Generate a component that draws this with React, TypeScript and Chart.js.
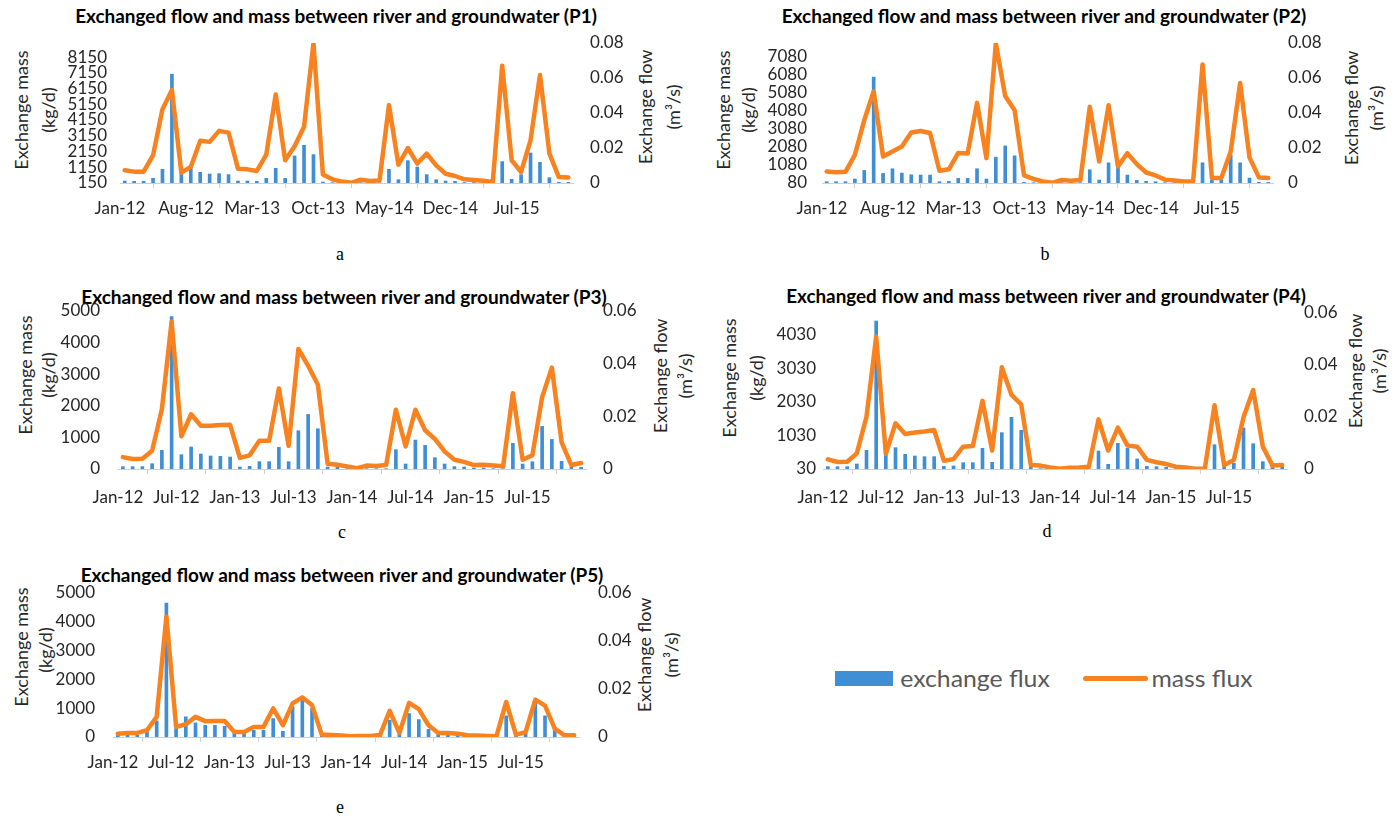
import React, { useEffect, useLayoutEffect, useRef, useState } from 'react';
import { Chart, registerables } from 'chart.js';

Chart.register(...registerables);

// ---------- data ----------
const MONTH_NAMES = ['Jan', 'Feb', 'Mar', 'Apr', 'May', 'Jun', 'Jul', 'Aug', 'Sep', 'Oct', 'Nov', 'Dec'];
const YEARS = ['12', '13', '14', '15'];
const MONTHS: string[] = YEARS.flatMap((y) => MONTH_NAMES.map((m) => `${m}-${y}`));

const TICKS_P12 = ['Jan-12', 'Aug-12', 'Mar-13', 'Oct-13', 'May-14', 'Dec-14', 'Jul-15'];
const TICKS_P345 = ['Jan-12', 'Jul-12', 'Jan-13', 'Jul-13', 'Jan-14', 'Jul-14', 'Jan-15', 'Jul-15'];

const P1_LEFT_TICKS = [150, 1150, 2150, 3150, 4150, 5150, 6150, 7150, 8150];
const P2_LEFT_TICKS = [80, 1080, 2080, 3080, 4080, 5080, 6080, 7080];
const P3_LEFT_TICKS = [0, 1000, 2000, 3000, 4000, 5000];
const P4_LEFT_TICKS = [30, 1030, 2030, 3030, 4030];
const P5_LEFT_TICKS = [0, 1000, 2000, 3000, 4000, 5000];
const RIGHT_TICKS_08 = [0, 0.02, 0.04, 0.06, 0.08];
const RIGHT_TICKS_06 = [0, 0.02, 0.04, 0.06];

// bars (exchange mass, kg/d) and line (exchange flow, m3/s), monthly Jan-12 .. Dec-15
const P1_BARS = [277, 256, 256, 447, 1020, 7060, 1200, 1100, 830, 722, 744, 680, 277, 277, 256, 447, 1083, 447, 1867, 2546, 1952, 214, 170, 170, 160, 170, 170, 170, 1020, 362, 1570, 1168, 680, 362, 277, 256, 180, 180, 180, 180, 1507, 383, 680, 2058, 1464, 490, 192, 192];
const P1_LINE = [0.0073, 0.0065, 0.0065, 0.0158, 0.0422, 0.0531, 0.0059, 0.0092, 0.0242, 0.0235, 0.0298, 0.0288, 0.0082, 0.0078, 0.0069, 0.0162, 0.0506, 0.013, 0.021, 0.0321, 0.0798, 0.0048, 0.0021, 0.0008, 0.0001, 0.0019, 0.0011, 0.0015, 0.0445, 0.0105, 0.02, 0.0111, 0.0168, 0.0101, 0.0053, 0.004, 0.0021, 0.0017, 0.0013, 0.0006, 0.067, 0.013, 0.0063, 0.0244, 0.0617, 0.0168, 0.0034, 0.0031];

const P2_BARS = [153, 153, 153, 299, 774, 5920, 609, 865, 627, 536, 518, 518, 153, 171, 335, 335, 865, 299, 1504, 2124, 1577, 117, 98, 98, 98, 98, 98, 98, 810, 244, 1193, 993, 518, 226, 171, 153, 98, 98, 98, 98, 1193, 244, 244, 1631, 1193, 354, 117, 117];
const P2_LINE = [0.0066, 0.0062, 0.0064, 0.0161, 0.0359, 0.0524, 0.0151, 0.018, 0.0208, 0.0289, 0.0297, 0.0286, 0.007, 0.0078, 0.0172, 0.0168, 0.0458, 0.0142, 0.0798, 0.0497, 0.0416, 0.0043, 0.0023, 0.0009, 0.0001, 0.0017, 0.0013, 0.0017, 0.0435, 0.0123, 0.0444, 0.0095, 0.017, 0.0108, 0.006, 0.0043, 0.0019, 0.0015, 0.0009, 0.0009, 0.0677, 0.0028, 0.0028, 0.018, 0.0571, 0.0146, 0.0032, 0.0028];

const P3_BARS = [74, 74, 74, 168, 590, 4820, 453, 695, 474, 411, 400, 379, 63, 84, 232, 232, 684, 232, 1211, 1727, 1274, 63, 53, 10, 10, 10, 10, 10, 611, 158, 916, 748, 358, 158, 74, 63, 32, 32, 10, 10, 811, 158, 232, 1348, 937, 242, 63, 53];
const P3_LINE = [0.0045, 0.0038, 0.0039, 0.0069, 0.0227, 0.056, 0.0124, 0.0208, 0.0164, 0.0164, 0.0167, 0.0168, 0.0042, 0.0052, 0.0107, 0.0107, 0.0306, 0.0088, 0.0456, 0.0392, 0.032, 0.002, 0.0016, 0.001, 0.0003, 0.0013, 0.0011, 0.0015, 0.0225, 0.0086, 0.0225, 0.0147, 0.0114, 0.0067, 0.0035, 0.0027, 0.0015, 0.0016, 0.0013, 0.001, 0.0288, 0.0035, 0.0052, 0.0273, 0.0385, 0.0101, 0.0015, 0.0023];

const P4_BARS = [100, 100, 100, 179, 587, 4448, 448, 667, 468, 418, 398, 398, 110, 120, 219, 219, 647, 229, 1115, 1572, 1184, 80, 40, 40, 40, 40, 40, 40, 567, 169, 796, 647, 329, 110, 100, 80, 40, 40, 40, 40, 756, 100, 199, 1254, 786, 249, 100, 100];
const P4_LINE = [0.0037, 0.0027, 0.0028, 0.006, 0.0201, 0.0509, 0.0058, 0.0176, 0.0135, 0.014, 0.0144, 0.015, 0.0032, 0.0038, 0.0086, 0.0088, 0.0262, 0.0071, 0.0391, 0.0285, 0.0249, 0.0015, 0.0013, 0.0006, 0.0001, 0.0005, 0.0006, 0.0009, 0.0191, 0.0071, 0.0159, 0.009, 0.0086, 0.0035, 0.0026, 0.0019, 0.0009, 0.0006, 0.0001, 0.0001, 0.0245, 0.0015, 0.0035, 0.0199, 0.0304, 0.0086, 0.0013, 0.0015];

const P5_BARS = [58, 58, 58, 174, 558, 4650, 300, 700, 490, 407, 407, 372, 140, 140, 233, 233, 640, 198, 1047, 1337, 990, 50, 40, 30, 20, 30, 30, 40, 580, 140, 814, 605, 267, 93, 93, 80, 35, 35, 30, 30, 733, 116, 140, 1221, 733, 267, 58, 58];
const P5_LINE = [0.0014, 0.0017, 0.0017, 0.0028, 0.0084, 0.0502, 0.0042, 0.0053, 0.0084, 0.0066, 0.0067, 0.0067, 0.0021, 0.0021, 0.0042, 0.0042, 0.0119, 0.0049, 0.014, 0.0165, 0.0133, 0.001, 0.0008, 0.0006, 0.0003, 0.0004, 0.0004, 0.0008, 0.0109, 0.0017, 0.0142, 0.0116, 0.0049, 0.0017, 0.0017, 0.0014, 0.0007, 0.0006, 0.0004, 0.0004, 0.0146, 0.001, 0.002, 0.0156, 0.0131, 0.0035, 0.0007, 0.0007];

const TITLE = 'Exchanged flow and mass between river and groundwater';

// ---------- style ----------
const FONT = 'Lato, "Open Sans", sans-serif';
const SERIF = '"Liberation Serif", "Times New Roman", serif';
const BLUE = '#3f8fd6';
const ORANGE = '#f7821f';
const TICK_COLOR = '#262626';
const AXIS_COLOR = '#cfcfcf';
const AX_TITLE_SIZE = 18;

type PanelProps = {
  L: number; T: number; R: number; B: number;
  bars: number[]; line: number[];
  leftTicks: number[]; leftMin: number; leftMax: number;
  rightTicks: number[]; rightMax: number;
  xTicks: string[]; xStep: number;
  leftPad: number; rightPad: number; xPad: number;
};

function Panel(p: PanelProps) {
  const ref = useRef<HTMLCanvasElement>(null);
  const padL = 90, padR = 70, padT = 40, padB = 45;
  const w = p.R - p.L + padL + padR;
  const h = p.B - p.T + padT + padB;
  useEffect(() => {
    const tickFont = { family: FONT, size: 17 };
    const chart = new Chart(ref.current as HTMLCanvasElement, {
      type: 'bar',
      data: {
        datasets: [
          {
            type: 'line',
            label: 'mass flux',
            data: p.line.map((v, i) => ({ x: i + 0.5, y: v })),
            yAxisID: 'y1',
            borderColor: ORANGE,
            backgroundColor: ORANGE,
            borderWidth: 4.5,
            pointRadius: 0,
            tension: 0,
            borderJoinStyle: 'round',
            borderCapStyle: 'round',
            order: 0,
          } as any,
          {
            type: 'bar',
            label: 'exchange flux',
            data: p.bars.map((v, i) => ({ x: i + 0.5, y: v })),
            yAxisID: 'y',
            backgroundColor: BLUE,
            barThickness: 3,
            order: 1,
          } as any,
        ],
      },
      options: {
        responsive: false,
        animation: false,
        layout: { padding: { top: padT, left: 0, right: 0, bottom: 0 } },
        plugins: { legend: { display: false }, tooltip: { enabled: false }, title: { display: false } },
        scales: {
          x: {
            type: 'linear',
            min: 0,
            max: 48,
            offset: false,
            afterBuildTicks: (s: any) => { s.ticks = p.xTicks.map((_, k) => ({ value: k * p.xStep })); },
            afterFit: (s: any) => { s.height = padB; },
            ticks: {
              autoSkip: false, maxRotation: 0, minRotation: 0, padding: p.xPad, color: TICK_COLOR, font: tickFont,
              callback: (v: any) => { const k = Math.round(Number(v) / p.xStep); return p.xTicks[k] ?? ''; },
            },
            grid: { drawOnChartArea: false, drawTicks: true, tickLength: 5, color: AXIS_COLOR },
            border: { display: true, color: AXIS_COLOR, width: 1 },
          },
          y: {
            type: 'linear',
            position: 'left',
            min: p.leftMin,
            max: p.leftMax,
            afterBuildTicks: (s: any) => { s.ticks = p.leftTicks.map((v) => ({ value: v })); },
            afterFit: (s: any) => { s.width = padL; },
            grid: { display: false, drawTicks: false },
            border: { display: false },
            ticks: { autoSkip: false, padding: p.leftPad, color: TICK_COLOR, font: tickFont, callback: (v: any) => String(v) },
          },
          y1: {
            type: 'linear',
            position: 'right',
            min: 0,
            max: p.rightMax,
            afterBuildTicks: (s: any) => { s.ticks = p.rightTicks.map((v) => ({ value: v })); },
            afterFit: (s: any) => { s.width = padR; },
            grid: { display: false, drawTicks: false },
            border: { display: false },
            ticks: { autoSkip: false, padding: p.rightPad, color: TICK_COLOR, font: tickFont, callback: (v: any) => (Number(v) === 0 ? '0' : Number(v).toFixed(2)) },
          },
        },
      } as any,
    });
    return () => chart.destroy();
  }, []);
  return (
    <canvas
      ref={ref}
      width={w}
      height={h}
      style={{ position: 'absolute', left: p.L - padL, top: p.T - padT, width: w, height: h }}
    />
  );
}

type TxtProps = {
  x: number; y: number; text: string; size: number; weight?: number; color?: string;
  family?: string; rotate?: boolean; fitWidth?: number;
};

function Txt({ x, y, text, size, weight = 400, color = '#262626', family = FONT, rotate = false, fitWidth }: TxtProps) {
  const ref = useRef<HTMLDivElement>(null);
  const [sx, setSx] = useState(1);
  useLayoutEffect(() => {
    if (fitWidth && ref.current) {
      const w = ref.current.offsetWidth;
      if (w > 0) setSx(fitWidth / w);
    }
  }, []);
  const t = `translate(-50%,-50%)${rotate ? ' rotate(-90deg)' : ''}${sx !== 1 ? ` scaleX(${sx})` : ''}`;
  return (
    <div
      ref={ref}
      style={{
        position: 'absolute', left: x, top: y, transform: t, fontFamily: family, fontSize: size,
        fontWeight: weight, color, whiteSpace: 'nowrap', lineHeight: 1,
      }}
    >
      {text}
    </div>
  );
}

export default function App() {
  return (
    <div style={{ position: 'absolute', left: 0, top: 0, width: 1394, height: 821, background: '#fff', overflow: 'hidden' }}>
      {/* P1 */}
      <Txt x={336} y={16} text={`${TITLE} (P1)`} size={18} weight={700} color="#000" fitWidth={522} />
      <Txt x={21} y={110} text="Exchange mass" size={AX_TITLE_SIZE} rotate />
      <Txt x={48} y={110} text="(kg/d)" size={AX_TITLE_SIZE} rotate />
      <Txt x={645} y={107} text="Exchange flow" size={AX_TITLE_SIZE} rotate />
      <Txt x={673} y={107} text="(m³/s)" size={AX_TITLE_SIZE} rotate />
      <Panel L={120} T={43} R={573} B={183} bars={P1_BARS} line={P1_LINE}
        leftTicks={P1_LEFT_TICKS} leftMin={150} leftMax={9040} rightTicks={RIGHT_TICKS_08} rightMax={0.08}
        xTicks={TICKS_P12} xStep={7} leftPad={13} rightPad={17} xPad={10} />
      <Txt x={340} y={254} text="a" size={18} family={SERIF} color="#000" />

      {/* P2 */}
      <Txt x={1044} y={16} text={`${TITLE} (P2)`} size={18} weight={700} color="#000" fitWidth={525} />
      <Txt x={723} y={110} text="Exchange mass" size={AX_TITLE_SIZE} rotate />
      <Txt x={748} y={110} text="(kg/d)" size={AX_TITLE_SIZE} rotate />
      <Txt x={1351} y={108} text="Exchange flow" size={AX_TITLE_SIZE} rotate />
      <Txt x={1376} y={108} text="(m³/s)" size={AX_TITLE_SIZE} rotate />
      <Panel L={822} T={43} R={1273} B={183} bars={P2_BARS} line={P2_LINE}
        leftTicks={P2_LEFT_TICKS} leftMin={80} leftMax={7800} rightTicks={RIGHT_TICKS_08} rightMax={0.08}
        xTicks={TICKS_P12} xStep={7} leftPad={15} rightPad={15} xPad={10} />
      <Txt x={1045} y={254} text="b" size={18} family={SERIF} color="#000" />

      {/* P3 */}
      <Txt x={344} y={297} text={`${TITLE} (P3)`} size={18} weight={700} color="#000" fitWidth={526} />
      <Txt x={25} y={375} text="Exchange mass" size={AX_TITLE_SIZE} rotate />
      <Txt x={48} y={375} text="(kg/d)" size={AX_TITLE_SIZE} rotate />
      <Txt x={660} y={376} text="Exchange flow" size={AX_TITLE_SIZE} rotate />
      <Txt x={685} y={376} text="(m³/s)" size={AX_TITLE_SIZE} rotate />
      <Panel L={118} T={311} R={586} B={469} bars={P3_BARS} line={P3_LINE}
        leftTicks={P3_LEFT_TICKS} leftMin={0} leftMax={5000} rightTicks={RIGHT_TICKS_06} rightMax={0.06}
        xTicks={TICKS_P345} xStep={6} leftPad={18} rightPad={17} xPad={13} />
      <Txt x={342} y={532} text="c" size={18} family={SERIF} color="#000" />

      {/* P4 */}
      <Txt x={1046} y={296} text={`${TITLE} (P4)`} size={18} weight={700} color="#000" fitWidth={520} />
      <Txt x={729} y={378} text="Exchange mass" size={AX_TITLE_SIZE} rotate />
      <Txt x={756} y={378} text="(kg/d)" size={AX_TITLE_SIZE} rotate />
      <Txt x={1355} y={371} text="Exchange flow" size={AX_TITLE_SIZE} rotate />
      <Txt x={1379} y={371} text="(m³/s)" size={AX_TITLE_SIZE} rotate />
      <Panel L={823} T={313} R={1287} B={469} bars={P4_BARS} line={P4_LINE}
        leftTicks={P4_LEFT_TICKS} leftMin={30} leftMax={4687} rightTicks={RIGHT_TICKS_06} rightMax={0.06}
        xTicks={TICKS_P345} xStep={6} leftPad={7} rightPad={17} xPad={13} />
      <Txt x={1047} y={531} text="d" size={18} family={SERIF} color="#000" />

      {/* P5 */}
      <Txt x={342} y={575} text={`${TITLE} (P5)`} size={18} weight={700} color="#000" fitWidth={523} />
      <Txt x={21} y={647} text="Exchange mass" size={AX_TITLE_SIZE} rotate />
      <Txt x={45} y={650} text="(kg/d)" size={AX_TITLE_SIZE} rotate />
      <Txt x={644} y={655} text="Exchange flow" size={AX_TITLE_SIZE} rotate />
      <Txt x={671} y={655} text="(m³/s)" size={AX_TITLE_SIZE} rotate />
      <Panel L={113} T={593} R={579} B={737} bars={P5_BARS} line={P5_LINE}
        leftTicks={P5_LEFT_TICKS} leftMin={0} leftMax={5000} rightTicks={RIGHT_TICKS_06} rightMax={0.06}
        xTicks={TICKS_P345} xStep={6} leftPad={18} rightPad={19} xPad={10} />
      <Txt x={340} y={807} text="e" size={18} family={SERIF} color="#000" />

      {/* legend */}
      <div style={{ position: 'absolute', left: 835, top: 671, width: 58, height: 15, background: BLUE }} />
      <Txt x={975} y={678} text="exchange flux" size={23} color="#595959" fitWidth={150} />
      <div style={{ position: 'absolute', left: 1083, top: 676, width: 65, height: 5, borderRadius: 3, background: ORANGE }} />
      <Txt x={1202} y={678} text="mass flux" size={23} color="#595959" fitWidth={101} />
      <span style={{ display: 'none' }}>{MONTHS.join(',')}</span>
    </div>
  );
}
